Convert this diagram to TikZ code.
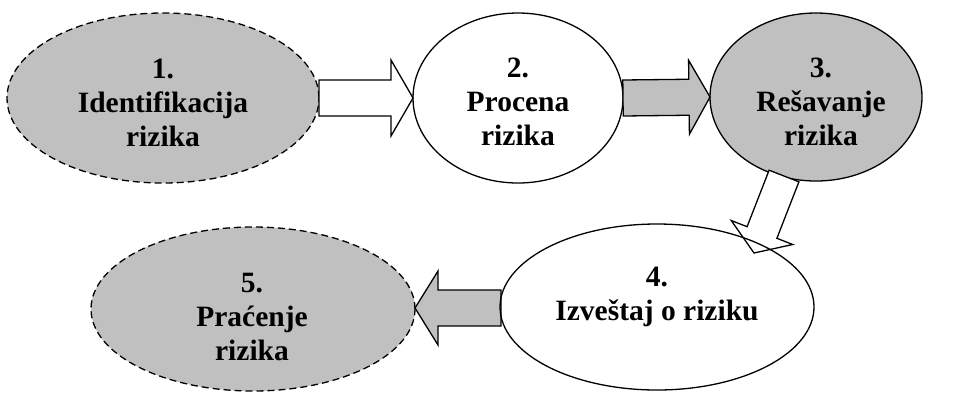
\documentclass[tikz,border=0pt]{standalone}
\usepackage{fontspec}
\setmainfont{Liberation Serif}
\usetikzlibrary{shapes.geometric,calc}
\definecolor{silv}{RGB}{192,192,192}
\newcommand\blockarrow[6]{% #1 start, #2 tip, #3 shaft half width, #4 head half width, #5 head length, #6 fill
  \coordinate (ba-b) at ($(#2)!#5!(#1)$);
  \draw[barrow, fill=#6] ($(#1)!#3!90:(#2)$) -- ($(ba-b)!#3!90:(#2)$) -- ($(ba-b)!#4!90:(#2)$) -- (#2)
    -- ($(ba-b)!#4!-90:(#2)$) -- ($(ba-b)!#3!-90:(#2)$) -- ($(#1)!#3!-90:(#2)$) -- cycle;
}
\begin{document}
\begin{tikzpicture}[x=1pt,y=-1pt,
  stage/.style={ellipse, draw=black, line width=1.3pt, inner sep=0pt, outer sep=0pt},
  grayst/.style={stage, fill=silv},
  dashst/.style={dash pattern=on 7pt off 4pt},
  lbl/.style={font=\fontsize{29.5}{34}\selectfont\bfseries, align=center, inner sep=0pt},
  barrow/.style={draw=black, line width=1.3pt, line join=miter}]
\useasboundingbox (0,0) rectangle (976,392);

\node[grayst, dashst, minimum width=312pt, minimum height=170pt] (e1) at (163,98) {};
\node[stage, fill=white, minimum width=210pt, minimum height=170pt] (e2) at (518,98) {};
\node[grayst, minimum width=212pt, minimum height=168pt] (e3) at (816,97) {};
\node[grayst, dashst, minimum width=324pt, minimum height=164pt] (e5) at (253,309) {};

\blockarrow{e1.east}{e2.west}{18pt}{38pt}{22pt}{white}
\blockarrow{e2.east}{e3.west}{18pt}{37pt}{21pt}{silv}

\coordinate (a4t) at (e5.east |- 0,308);
\coordinate (a4s) at (501,308);
\blockarrow{a4s}{a4t}{18pt}{37pt}{23pt}{silv}

\coordinate (a3s) at (784,176);
\coordinate (a3t) at (754,253);
\blockarrow{a3s}{a3t}{16pt}{33pt}{22pt}{white}

\node[stage, minimum width=314pt, minimum height=166pt] (e4) at (657,307) {};

\node[lbl] (t1) at (163,103) {1.\\Identifikacija\\rizika};
\node[lbl] (t2) at (518,102) {2.\\Procena\\rizika};
\node[lbl] (t3) at (821,102) {3.\\Rešavanje\\rizika};
\node[lbl] (t4) at (657,297) {4.\\Izveštaj o riziku};
\node[lbl] (t5) at (252,317) {5.\\Praćenje\\rizika};
\end{tikzpicture}
\end{document}
